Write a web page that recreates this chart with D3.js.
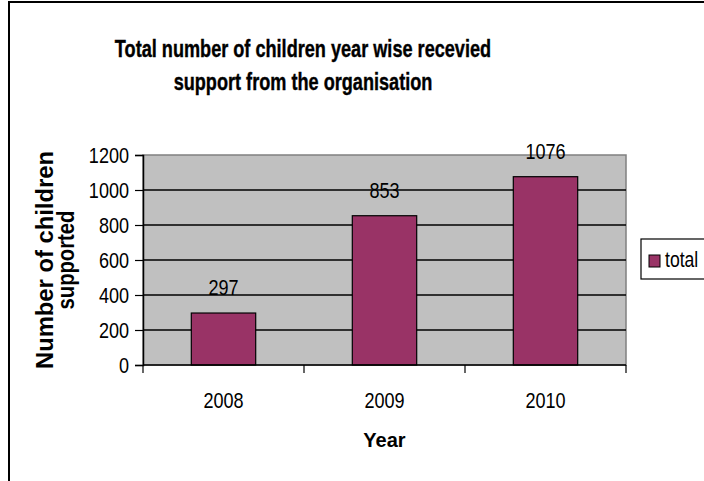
<!DOCTYPE html>
<html>
<head>
<meta charset="utf-8">
<script src="https://cdn.jsdelivr.net/npm/d3@7"></script>
<style>
  body { margin: 0; background: #fff; }
  svg { display: block; }
  text { font-family: "Liberation Sans", Arial, sans-serif; fill: #000; }
</style>
</head>
<body>
<div id="vis"></div>
<script>
// chart data
const years = ['2008', '2009', '2010']
const totals = [297, 853, 1076]
const yTicks = [0, 200, 400, 600, 800, 1000, 1200]
const seriesName = 'total'

;(function() {
  const svg_width = 704,
        svg_height = 481,
        svg = d3.select('#vis').append('svg')

  svg.attr('width', svg_width).attr('height', svg_height)

  // no narrow font installed: squeeze the glyphs horizontally instead
  const condense = (sel, factor) => {
    sel.each(function() {
      const w = this.getComputedTextLength()
      d3.select(this)
        .attr('textLength', w * factor)
        .attr('lengthAdjust', 'spacingAndGlyphs')
    })
  }

  // outer chart frame
  svg.append('rect')
    .attr('x', 9).attr('y', 2)
    .attr('width', 800).attr('height', 800)
    .attr('fill', '#fff')
    .attr('stroke', '#000')
    .attr('stroke-width', 2)

  const plot = { left: 143, right: 626, top: 155, bottom: 365 }

  const x = d3.scaleBand()
    .domain(years)
    .range([plot.left, plot.right])
    .paddingInner(0.6)
    .paddingOuter(0.3)

  // band edges for the category tick marks
  const xEdge = d3.scaleBand().domain(years).range([plot.left, plot.right])

  const y = d3.scaleLinear()
    .domain([0, 1200])
    .range([plot.bottom, plot.top])

  // plot background
  svg.append('rect')
    .attr('x', plot.left).attr('y', plot.top)
    .attr('width', plot.right - plot.left)
    .attr('height', plot.bottom - plot.top)
    .attr('fill', '#c0c0c0')
    .attr('stroke', '#808080')
    .attr('stroke-width', 1.5)

  // gridlines
  svg.append('g')
    .selectAll('line')
    .data(yTicks.filter(d => d > 0 && d < 1200))
    .join('line')
    .attr('x1', plot.left).attr('x2', plot.right)
    .attr('y1', d => y(d)).attr('y2', d => y(d))
    .attr('stroke', '#000')
    .attr('stroke-width', 1.5)

  // bars
  svg.append('g')
    .selectAll('rect')
    .data(years)
    .join('rect')
    .attr('x', d => x(d))
    .attr('y', (d, i) => y(totals[i]))
    .attr('width', x.bandwidth())
    .attr('height', (d, i) => y(0) - y(totals[i]))
    .attr('fill', '#993366')
    .attr('stroke', '#000')
    .attr('stroke-width', 1.2)

  // value labels
  svg.append('g')
    .selectAll('text')
    .data(years)
    .join('text')
    .attr('x', d => x(d) + x.bandwidth() / 2)
    .attr('y', (d, i) => y(totals[i]) - 18)
    .attr('text-anchor', 'middle')
    .attr('font-size', 22)
    .text((d, i) => totals[i])
    .call(condense, 0.82)

  // y axis
  const yAxis = svg.append('g')
    .attr('transform', `translate(${plot.left},0)`)
    .call(d3.axisLeft(y).tickValues(yTicks).tickSize(8).tickPadding(6).tickFormat(d3.format('d')))
  yAxis.select('.domain').attr('stroke', '#000').attr('stroke-width', 1.5)
  yAxis.selectAll('.tick line').attr('stroke', '#000').attr('stroke-width', 1.2)
  yAxis.selectAll('.tick text')
    .attr('font-size', 22)
    .attr('fill', '#000')
    .call(condense, 0.82)
  yAxis.attr('font-family', null).attr('font-size', null)

  // x axis
  const xAxis = svg.append('g')
  xAxis.append('line')
    .attr('x1', plot.left).attr('x2', plot.right)
    .attr('y1', plot.bottom).attr('y2', plot.bottom)
    .attr('stroke', '#000').attr('stroke-width', 1.5)
  xAxis.selectAll('.tk')
    .data(years.map(d => xEdge(d)).concat([plot.right]))
    .join('line')
    .attr('class', 'tk')
    .attr('x1', d => d).attr('x2', d => d)
    .attr('y1', plot.bottom).attr('y2', plot.bottom + 8)
    .attr('stroke', '#000').attr('stroke-width', 1.2)
  xAxis.selectAll('text')
    .data(years)
    .join('text')
    .attr('x', d => x(d) + x.bandwidth() / 2)
    .attr('y', 408)
    .attr('text-anchor', 'middle')
    .attr('font-size', 22)
    .text(d => d)
    .call(condense, 0.82)

  // chart title, two lines
  const titleLines = ['Total number of children year wise recevied', 'support from the organisation']
  svg.append('g')
    .selectAll('text')
    .data(titleLines)
    .join('text')
    .attr('x', 303)
    .attr('y', (d, i) => 57 + i * 33)
    .attr('text-anchor', 'middle')
    .attr('font-size', 24)
    .attr('font-weight', 'bold')
    .attr('stroke', '#000')
    .attr('stroke-width', 0.4)
    .text(d => d)
    .call(condense, 0.755)

  // x axis title
  svg.append('text')
    .attr('x', (plot.left + plot.right) / 2)
    .attr('y', 447)
    .attr('text-anchor', 'middle')
    .attr('font-size', 20)
    .attr('font-weight', 'bold')
    .text('Year')

  // y axis title, two rotated lines
  const yTitleLines = ['Number of children', 'supported']
  const yTitleLen = [218, 99]
  svg.append('g')
    .attr('transform', `translate(0,${(plot.top + plot.bottom) / 2}) rotate(-90)`)
    .selectAll('text')
    .data(yTitleLines)
    .join('text')
    .attr('x', 0)
    .attr('y', (d, i) => 53 + i * 21)
    .attr('text-anchor', 'middle')
    .attr('font-size', 23)
    .attr('font-weight', 'bold')
    .attr('textLength', (d, i) => yTitleLen[i])
    .attr('lengthAdjust', 'spacingAndGlyphs')
    .text(d => d)

  // legend
  const legend = svg.append('g').attr('transform', 'translate(641,239)')
  legend.append('rect')
    .attr('width', 80).attr('height', 40)
    .attr('fill', '#fff').attr('stroke', '#000').attr('stroke-width', 1.2)
  legend.append('rect')
    .attr('x', 8).attr('y', 16)
    .attr('width', 11).attr('height', 12)
    .attr('fill', '#993366').attr('stroke', '#000').attr('stroke-width', 1)
  legend.append('text')
    .attr('x', 24).attr('y', 28)
    .attr('font-size', 22)
    .text(seriesName)
    .call(condense, 0.8)
}())
</script>
</body>
</html>
